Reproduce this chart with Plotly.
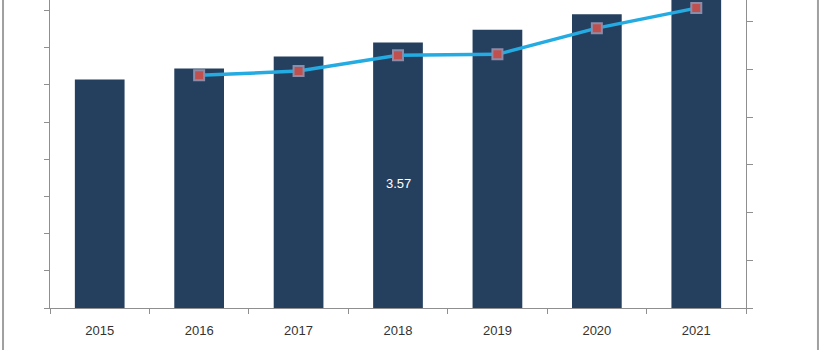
import plotly.graph_objects as go

years = ["2015", "2016", "2017", "2018", "2019", "2020", "2021"]
bar_values = [3.07, 3.22, 3.38, 3.57, 3.74, 3.95, 4.25]
line_years = ["2016", "2017", "2018", "2019", "2020", "2021"]
line_values = [4.88, 4.97, 5.30, 5.32, 5.87, 6.29]
label_year = "2018"
label_text = "3.57"

BAR = "#253f5f"
LINE = "#24abe2"
AXIS = "#8f8f8f"

fig = go.Figure()
fig.add_trace(go.Bar(
    x=years, y=bar_values, marker=dict(color=BAR, line=dict(width=0)),
    hoverinfo="skip", showlegend=False,
))
fig.add_trace(go.Scatter(
    x=line_years, y=line_values, yaxis="y2", mode="lines+markers",
    line=dict(color=LINE, width=3.5),
    marker=dict(symbol="square", size=10, color="#c0504d",
                line=dict(color="#8c8ca8", width=2)),
    showlegend=False, hoverinfo="skip",
))

idx = years.index(label_year)
fig.add_annotation(
    x=idx, y=bar_values[idx] / 2, yshift=-8, text=label_text,
    showarrow=False, font=dict(color="white", size=13, family="Liberation Sans"),
)

fig.update_layout(
    width=820, height=350,
    margin=dict(l=50, r=74, t=0, b=42),
    paper_bgcolor="white", plot_bgcolor="white",
    bargap=0.5,
    font=dict(family="Liberation Sans", size=13, color="#333333"),
    xaxis=dict(
        type="category", categoryorder="array", categoryarray=years,
        range=[-0.5, len(years) - 0.5],
        showline=True, linecolor=AXIS, linewidth=1,
        ticks="outside", tickson="boundaries", ticklen=5, tickcolor=AXIS,
        showgrid=False, zeroline=False, ticklabelstandoff=10, tickangle=0,
        tickfont=dict(size=13, color="#333333"),
    ),
    yaxis=dict(
        range=[0, 4.14], dtick=0.5, tick0=0, showticklabels=False,
        ticks="outside", ticklen=5, tickcolor=AXIS, showline=True,
        linecolor=AXIS, linewidth=1, showgrid=False, zeroline=False,
    ),
    yaxis2=dict(
        overlaying="y", side="right", range=[0, 6.46], dtick=1, tick0=0,
        showticklabels=False, ticks="outside", ticklen=6, tickcolor=AXIS,
        showline=True, linecolor=AXIS, linewidth=1, showgrid=False,
        zeroline=False,
    ),
    shapes=[
        dict(type="line", xref="paper", yref="paper", x0=-0.0675, x1=-0.0675,
             y0=-0.2, y1=1.1, line=dict(color="#a0a0a0", width=2)),
        dict(type="line", xref="paper", yref="paper", x0=1.1034, x1=1.1034,
             y0=-0.2, y1=1.1, line=dict(color="#a0a0a0", width=2)),
    ],
)

fig.write_html("out.html")
